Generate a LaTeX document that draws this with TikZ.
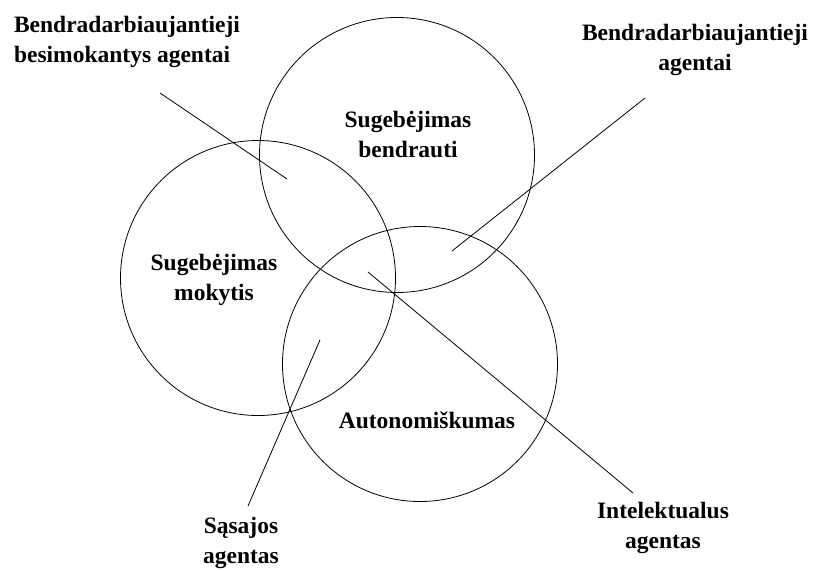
\documentclass[tikz,border=0pt]{standalone}
\usepackage{fontspec}
\setmainfont{Liberation Serif}
\usetikzlibrary{shapes.geometric}
\tikzstyle{ability} = [circle, draw = black, line width=0.8pt, minimum size=275pt, inner sep=0pt]
\tikzstyle{label} = [text centered, align=center, font=\bfseries\fontsize{23.5}{30}\selectfont]
\tikzstyle{pointer} = [line width=0.8pt, draw=black]

\begin{document}
\begin{tikzpicture}[x=1pt, y=-1pt]
\useasboundingbox (0,0) rectangle (815,571);
%apskritimai
\node (bendrauti) [ability] at (397,155) {};
\node (mokytis) [ability] at (258,278) {};
\node (autonom) [ability] at (420,364) {};

%tekstai apskritimuose
\node (tbendrauti) [label] at (408,134) {Sugebėjimas\\bendrauti};
\node (tmokytis) [label] at (214,280) {Sugebėjimas\\mokytis};
\node (tautonom) [label] at (427,420) {Autonomiškumas};

%agentu tipai
\node (besimok) [label, align=left] at (127,42) {Bendradarbiaujantieji\\besimokantys agentai};
\node (bendradarb) [label] at (695,50) {Bendradarbiaujantieji\\agentai};
\node (intelekt) [label] at (663,528) {Intelektualus\\agentas};
\node (sasajos) [label] at (241,543) {Sąsajos\\agentas};

%linijų galai
\coordinate (besimok-out) at (160,93);
\coordinate (besimok-in) at (287,179);
\coordinate (bendradarb-out) at (645,98);
\coordinate (bendradarb-in) at (452,251);
\coordinate (intelekt-in) at (368,272);
\coordinate (intelekt-out) at (633,493);
\coordinate (sasajos-in) at (320,340);
\coordinate (sasajos-out) at (248,506);

%linijos
\draw [pointer](besimok-out) -- (besimok-in);
\draw [pointer](bendradarb-out) -- (bendradarb-in);
\draw [pointer](intelekt-in) -- (intelekt-out);
\draw [pointer](sasajos-in) -- (sasajos-out);
\end{tikzpicture}
\end{document}
